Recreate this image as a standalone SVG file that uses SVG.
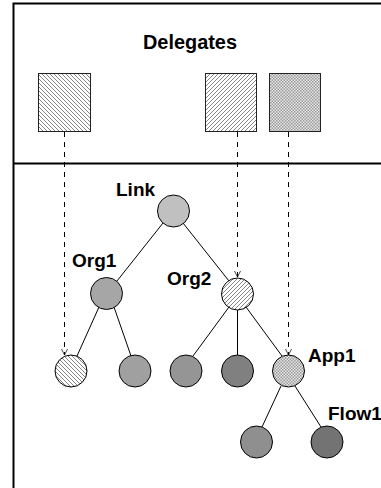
<svg xmlns="http://www.w3.org/2000/svg" width="381" height="488" viewBox="0 0 381 488">
  <defs>
    <pattern id="hatchBack" patternUnits="userSpaceOnUse" width="4" height="4">
      <rect width="4" height="4" fill="#fff"/>
      <path d="M-1,-1 L5,5 M-1,3 L1,5 M3,-1 L5,1" stroke="#666" stroke-width="0.8"/>
    </pattern>
    <pattern id="hatchFwd" patternUnits="userSpaceOnUse" width="4" height="4">
      <rect width="4" height="4" fill="#fff"/>
      <path d="M-1,5 L5,-1 M-1,1 L1,-1 M3,5 L5,3" stroke="#666" stroke-width="0.8"/>
    </pattern>
    <pattern id="crossHatch" patternUnits="userSpaceOnUse" width="3" height="3">
      <rect width="3" height="3" fill="#e8e8e8"/>
      <rect x="0" y="0" width="1.5" height="1.5" fill="#999"/>
      <rect x="1.5" y="1.5" width="1.5" height="1.5" fill="#999"/>
    </pattern>
    <marker id="openArrow" viewBox="0 0 10 10" refX="10" refY="5" markerWidth="6" markerHeight="8" markerUnits="userSpaceOnUse" orient="auto">
      <path d="M0,0 L10,5 L0,10" fill="none" stroke="#000" stroke-width="1.2"/>
    </marker>
  </defs>
  <style>
    .frame { fill: none; stroke: #000; stroke-width: 2; }
    .node { stroke: #000; stroke-width: 1; }
    .deleg { stroke: #222; stroke-width: 1; }
    .edge { stroke: #000; stroke-width: 1; fill: none; }
    .dash { stroke: #000; stroke-width: 1; fill: none; stroke-dasharray: 5 5; marker-end: url(#openArrow); }
    .label { font-family: "Liberation Sans", Arial, sans-serif; font-weight: bold; font-size: 19px; fill: #000; }
    .title { font-size: 19.5px; }
  </style>

  <!-- frame and divider -->
  <g id="frame">
    <rect class="frame" x="13.5" y="3.5" width="380" height="500"/>
    <line class="frame" x1="13" y1="163.5" x2="381" y2="163.5"/>
  </g>

  <!-- delegates row -->
  <g id="delegates-title">
    <text class="label title" x="190" y="49" text-anchor="middle" textLength="94" lengthAdjust="spacingAndGlyphs">Delegates</text>
  </g>
  <g id="delegate1"><rect class="deleg" x="38.5" y="73.5" width="52" height="58" fill="url(#hatchBack)"/></g>
  <g id="delegate2"><rect class="deleg" x="205.5" y="73.5" width="51" height="58" fill="url(#hatchFwd)"/></g>
  <g id="delegate3"><rect class="deleg" x="269.5" y="73.5" width="51" height="58" fill="url(#crossHatch)"/></g>

  <!-- connectors -->
  <g id="connectors">
    <line class="edge" x1="163" y1="223" x2="117" y2="281"/>
    <line class="edge" x1="183" y1="223" x2="229" y2="281"/>
    <line class="edge" x1="99" y1="307" x2="77" y2="356"/>
    <line class="edge" x1="114" y1="307" x2="131" y2="356"/>
    <line class="edge" x1="229" y1="307" x2="193" y2="356"/>
    <line class="edge" x1="237.5" y1="310" x2="237.5" y2="355"/>
    <line class="edge" x1="246" y1="307" x2="282" y2="356"/>
    <line class="edge" x1="281" y1="386" x2="262" y2="427"/>
    <line class="edge" x1="295" y1="386" x2="321" y2="427"/>
    <line class="dash" x1="64.5" y1="132" x2="64.5" y2="355"/>
    <line class="dash" x1="237.5" y1="132" x2="237.5" y2="277"/>
    <line class="dash" x1="288.5" y1="132" x2="288.5" y2="355"/>
  </g>

  <!-- tree nodes -->
  <g id="link">
    <circle class="node" cx="173.5" cy="211" r="16" fill="#c0c0c0"/>
    <text class="label" x="116" y="196">Link</text>
  </g>
  <g id="org1">
    <circle class="node" cx="106.5" cy="293.5" r="16" fill="#a6a6a6"/>
    <text class="label" x="72" y="267">Org1</text>
  </g>
  <g id="org2">
    <circle class="node" cx="237.5" cy="294" r="16" fill="url(#hatchFwd)"/>
    <text class="label" x="167" y="285">Org2</text>
  </g>
  <g id="leaf1"><circle class="node" cx="71" cy="371" r="16" fill="url(#hatchBack)"/></g>
  <g id="leaf2"><circle class="node" cx="135" cy="371" r="16" fill="#a0a0a0"/></g>
  <g id="leaf3"><circle class="node" cx="186" cy="371" r="16" fill="#959595"/></g>
  <g id="leaf4"><circle class="node" cx="237.5" cy="371" r="16" fill="#808080"/></g>
  <g id="app1">
    <circle class="node" cx="288.5" cy="371" r="16" fill="url(#crossHatch)"/>
    <text class="label" x="308" y="362">App1</text>
  </g>
  <g id="flow1">
    <circle class="node" cx="256.5" cy="442" r="16" fill="#8f8f8f"/>
    <circle class="node" cx="327" cy="442" r="16" fill="#737373"/>
    <text class="label" x="328" y="420">Flow1</text>
  </g>
</svg>
